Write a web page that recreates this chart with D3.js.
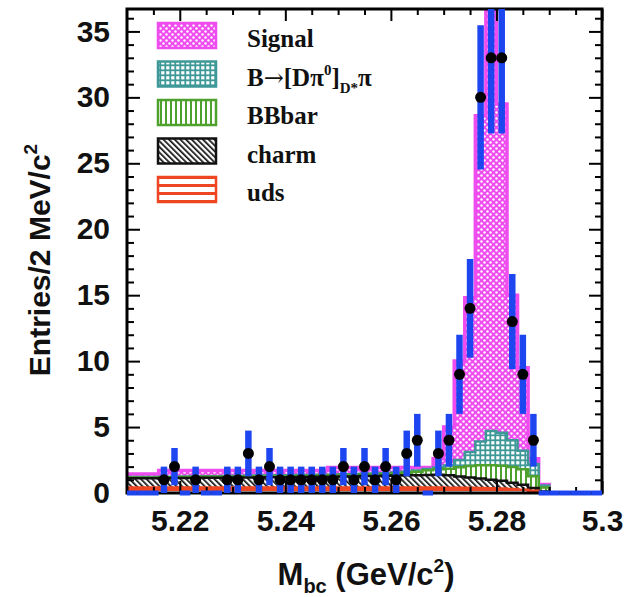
<!DOCTYPE html>
<html>
<head>
<meta charset="utf-8">
<script src="https://cdn.jsdelivr.net/npm/d3@7"></script>
<style>
  html, body { margin: 0; padding: 0; background: #fff; }
  svg { display: block; }
</style>
</head>
<body>
<svg id="chart" width="631" height="597"></svg>
<script>
// Mbc bin centres, 2 MeV/c^2 bins from 5.21 to 5.30 GeV/c^2
const binCenters = [5.211,5.213,5.215,5.217,5.219,5.221,5.223,5.225,5.227,5.229,
                    5.231,5.233,5.235,5.237,5.239,5.241,5.243,5.245,5.247,5.249,
                    5.251,5.253,5.255,5.257,5.259,5.261,5.263,5.265,5.267,5.269,
                    5.271,5.273,5.275,5.277,5.279,5.281,5.283,5.285,5.287,5.289,
                    5.291,5.293,5.295,5.297,5.299];
const binWidth = 0.002;

// Observed entries per bin
const dataCounts = [0,0,0,1,2,0,1,0,0,1,
                    1,3,1,2,1,1,1,1,1,1,
                    2,1,2,1,2,1,3,4,0,3,
                    4,9,14,30,33,33,13,9,4,0,
                    0,0,0,0,0];

// Fit components (entries per bin), stacked from bottom to top
const udsCounts = [0.42,0.42,0.42,0.42,0.42,0.42,0.42,0.42,0.42,0.42,
                   0.42,0.42,0.42,0.42,0.42,0.42,0.42,0.42,0.42,0.42,
                   0.42,0.42,0.42,0.42,0.42,0.42,0.42,0.41,0.41,0.41,
                   0.40,0.40,0.39,0.38,0.36,0.34,0.30,0.25,0.17,0.06,
                   0,0,0,0,0];
const charmCounts = [0.70,0.70,0.70,0.71,0.71,0.72,0.72,0.73,0.73,0.74,
                     0.75,0.75,0.76,0.77,0.78,0.78,0.79,0.80,0.81,0.82,
                     0.83,0.84,0.86,0.87,0.88,0.90,0.92,0.94,0.96,0.97,
                     0.95,0.86,0.78,0.72,0.64,0.58,0.48,0.37,0.20,0.05,
                     0,0,0,0,0];
const bbbarCounts = [0.06,0.06,0.06,0.07,0.07,0.07,0.07,0.08,0.08,0.08,
                     0.08,0.08,0.09,0.09,0.09,0.09,0.10,0.10,0.10,0.10,
                     0.11,0.11,0.12,0.13,0.14,0.16,0.20,0.27,0.35,0.42,
                     0.48,0.70,0.88,1.00,1.10,1.15,1.20,1.18,0.90,0.30,
                     0,0,0,0,0];
const dpiCounts = [0.03,0.03,0.03,0.04,0.04,0.04,0.04,0.04,0.04,0.04,
                   0.04,0.05,0.05,0.05,0.05,0.05,0.05,0.05,0.05,0.05,
                   0.06,0.06,0.06,0.06,0.06,0.07,0.07,0.08,0.10,0.14,
                   0.25,0.55,1.05,1.80,2.60,2.50,2.02,1.40,0.92,0.15,
                   0,0,0,0,0];
const signalCounts = [0.24,0.24,0.24,0.46,0.46,0.45,0.45,0.43,0.43,0.42,
                      0.41,0.40,0.38,0.37,0.36,0.36,0.34,0.33,0.32,0.54,
                      0.51,0.50,0.47,0.45,0.43,0.38,0.32,0.23,0.11,0.66,
                      2.92,7.49,11.70,24.70,34.30,24.93,11.00,6.30,0.41,0.09,
                      0,0,0,0,0];

// Axis ticks
const xTickValues = [5.22,5.24,5.26,5.28,5.30];
const xTickLabels = ["5.22","5.24","5.26","5.28","5.3"];
const xMinorTicks = [5.215,5.225,5.23,5.235,5.245,5.25,5.255,5.265,5.27,5.275,5.285,5.29,5.295];
const yTickValues = [0,5,10,15,20,25,30,35];
const yTickLabels = ["0","5","10","15","20","25","30","35"];
const yMinorTicks = [1,2,3,4,6,7,8,9,11,12,13,14,16,17,18,19,21,22,23,24,26,27,28,29,31,32,33,34,36];

// Legend entries, top to bottom
const components = [
  {key: "signal", label: "Signal", color: "#ee4cee", pattern: "patSignal", values: signalCounts},
  {key: "dpi",    label: "dpi",    color: "#3f9898", pattern: "patDpi",    values: dpiCounts},
  {key: "bbbar",  label: "BBbar",  color: "#4ea12c", pattern: "patBB",     values: bbbarCounts},
  {key: "charm",  label: "charm",  color: "#111111", pattern: "patCharm",  values: charmCounts},
  {key: "uds",    label: "uds",    color: "#ee4522", pattern: "patUds",    values: udsCounts}
];

const svg = d3.select("#chart");
const frame = {left: 127, right: 602, top: 9, bottom: 493};

const x = d3.scaleLinear().domain([5.21, 5.30]).range([frame.left, frame.right]);
const y = d3.scaleLinear().domain([0, 36.7]).range([frame.bottom, frame.top]);

// ---- fill patterns ----
const defs = svg.append("defs");
function pattern(id, w, h, draw, transform) {
  const p = defs.append("pattern").attr("id", id)
    .attr("patternUnits", "userSpaceOnUse").attr("width", w).attr("height", h);
  if (transform) p.attr("patternTransform", transform);
  draw(p);
}
pattern("patSignal", 6, 6, p => {
  p.append("rect").attr("width", 6).attr("height", 6).attr("fill", "#ee4cee");
  p.append("circle").attr("cx", 1.5).attr("cy", 1.5).attr("r", 1.2).attr("fill", "#fff");
  p.append("circle").attr("cx", 4.5).attr("cy", 4.5).attr("r", 1.2).attr("fill", "#fff");
});
pattern("patDpi", 5, 5, p => {
  p.append("rect").attr("width", 5).attr("height", 5).attr("fill", "#3f9898");
  p.append("rect").attr("x", 1.2).attr("y", 1.2).attr("width", 3.2).attr("height", 3.2).attr("fill", "#fff");
});
pattern("patBB", 5, 5, p => {
  p.append("rect").attr("width", 5).attr("height", 5).attr("fill", "#fff");
  p.append("rect").attr("x", 0).attr("width", 2).attr("height", 5).attr("fill", "#4ea12c");
});
pattern("patCharm", 4, 4, p => {
  p.append("rect").attr("width", 4).attr("height", 4).attr("fill", "#fff");
  p.append("rect").attr("x", 0).attr("width", 1.7).attr("height", 4).attr("fill", "#111");
}, "rotate(-45)");
pattern("patUds", 8, 8, p => {
  p.append("rect").attr("width", 8).attr("height", 8).attr("fill", "#fff");
  p.append("rect").attr("y", 0).attr("width", 8).attr("height", 3).attr("fill", "#ee4522");
});

defs.append("clipPath").attr("id", "plotClip")
  .append("rect").attr("x", frame.left).attr("y", frame.top)
  .attr("width", frame.right - frame.left).attr("height", frame.bottom - frame.top);
defs.append("clipPath").attr("id", "dataClip")
  .append("rect").attr("x", frame.left).attr("y", frame.top)
  .attr("width", frame.right - frame.left).attr("height", frame.bottom - frame.top + 4);

// ---- stacked histograms ----
const rows = binCenters.map((c, i) => ({
  center: c,
  uds: udsCounts[i], charm: charmCounts[i], bbbar: bbbarCounts[i],
  dpi: dpiCounts[i], signal: signalCounts[i]
}));
const stackOrder = ["uds", "charm", "bbbar", "dpi", "signal"];
const layers = d3.stack().keys(stackOrder)(rows);

function stepPoints(layer) {
  const pts = [];
  layer.forEach(d => {
    pts.push([d.data.center - binWidth / 2, d[1]]);
    pts.push([d.data.center + binWidth / 2, d[1]]);
  });
  return pts;
}
const area = d3.area().x(p => x(p[0])).y0(y(0)).y1(p => y(p[1]));
const line = d3.line().x(p => x(p[0])).y(p => y(p[1]));

const histG = svg.append("g").attr("clip-path", "url(#plotClip)");
const strokeW = {signal: 3.5, dpi: 2.5, bbbar: 2.5, charm: 2.5, uds: 2.5};
// draw the full stack first, then each lower cumulative on top of it
stackOrder.slice().reverse().forEach(key => {
  const comp = components.find(c => c.key === key);
  const layer = layers.find(l => l.key === key);
  const pts = stepPoints(layer);
  histG.append("path").attr("d", area(pts)).attr("fill", `url(#${comp.pattern})`);
  histG.append("path").attr("d", line(pts)).attr("fill", "none")
    .attr("stroke", comp.color).attr("stroke-width", strokeW[key]);
});

// ---- frame and ticks ----
const axisFont = "'Liberation Sans', Arial, Helvetica, sans-serif";
svg.append("rect").attr("x", frame.left).attr("y", frame.top)
  .attr("width", frame.right - frame.left).attr("height", frame.bottom - frame.top)
  .attr("fill", "none").attr("stroke", "#000").attr("stroke-width", 3);

function styleAxis(g) {
  g.select(".domain").remove();
  g.selectAll(".tick line").attr("stroke", "#000").attr("stroke-width", 2);
  g.selectAll(".tick text").attr("font-family", axisFont).attr("font-weight", "bold")
    .attr("font-size", 30).attr("fill", "#111");
}
svg.append("g").attr("transform", `translate(0,${frame.bottom})`)
  .call(d3.axisBottom(x).tickValues(xTickValues).tickFormat((d, i) => xTickLabels[i])
    .tickSize(-12).tickPadding(17)).call(styleAxis);
svg.append("g").attr("transform", `translate(0,${frame.bottom})`)
  .call(d3.axisBottom(x).tickValues(xMinorTicks).tickFormat("").tickSize(-6)).call(styleAxis);
svg.append("g").attr("transform", `translate(0,${frame.top})`)
  .call(d3.axisTop(x).tickValues(xTickValues).tickFormat("").tickSize(-12)).call(styleAxis);
svg.append("g").attr("transform", `translate(0,${frame.top})`)
  .call(d3.axisTop(x).tickValues(xMinorTicks).tickFormat("").tickSize(-6)).call(styleAxis);
svg.append("g").attr("transform", `translate(${frame.left},0)`)
  .call(d3.axisLeft(y).tickValues(yTickValues).tickFormat((d, i) => yTickLabels[i])
    .tickSize(-13).tickPadding(17)).call(styleAxis);
svg.append("g").attr("transform", `translate(${frame.left},0)`)
  .call(d3.axisLeft(y).tickValues(yMinorTicks).tickFormat("").tickSize(-7)).call(styleAxis);
svg.append("g").attr("transform", `translate(${frame.right},0)`)
  .call(d3.axisRight(y).tickValues(yTickValues).tickFormat("").tickSize(-13)).call(styleAxis);
svg.append("g").attr("transform", `translate(${frame.right},0)`)
  .call(d3.axisRight(y).tickValues(yMinorTicks).tickFormat("").tickSize(-7)).call(styleAxis);

// ---- data points with errors ----
const dataG = svg.append("g").attr("clip-path", "url(#dataClip)");
const blue = "#1e46f0";
binCenters.forEach((c, i) => {
  const n = dataCounts[i];
  if (n === 0) {
    dataG.append("line")
      .attr("x1", x(c - binWidth / 2)).attr("x2", x(c + binWidth / 2))
      .attr("y1", y(0)).attr("y2", y(0))
      .attr("stroke", blue).attr("stroke-width", 5);
  } else {
    const e = Math.sqrt(n);
    dataG.append("line")
      .attr("x1", x(c)).attr("x2", x(c))
      .attr("y1", Math.min(y(Math.max(n - e, 0)), frame.bottom)).attr("y2", y(n + e))
      .attr("stroke", blue).attr("stroke-width", 6.5);
  }
});
binCenters.forEach((c, i) => {
  const n = dataCounts[i];
  if (n > 0) {
    dataG.append("circle").attr("cx", x(c)).attr("cy", y(n)).attr("r", 5.5).attr("fill", "#000");
  }
});

// ---- legend ----
const legendFont = "'Liberation Serif', 'Times New Roman', Times, serif";
const legend = svg.append("g");
const legendTop = 23, legendStep = 38.5;
components.forEach((c, i) => {
  const yy = legendTop + i * legendStep;
  legend.append("rect").attr("x", 158).attr("y", yy).attr("width", 58).attr("height", 25)
    .attr("fill", `url(#${c.pattern})`).attr("stroke", c.color).attr("stroke-width", 2.5);
  const t = legend.append("text").attr("x", 247).attr("y", yy + 24)
    .attr("font-family", legendFont).attr("font-weight", "bold").attr("font-size", 25)
    .attr("fill", "#111");
  if (c.key === "dpi") {
    t.append("tspan").text("B");
    t.append("tspan").attr("font-family", "'DejaVu Serif', serif").attr("font-weight", "normal")
      .attr("font-size", 24).text("\u2192");
    t.append("tspan").text("[D\u03c0");
    t.append("tspan").attr("font-size", 15).attr("dy", -11).text("0");
    t.append("tspan").attr("dy", 11).text("]");
    t.append("tspan").attr("font-size", 15).attr("dy", 7).text("D*");
    t.append("tspan").attr("dy", -7).text("\u03c0");
  } else {
    t.text(c.label);
  }
});

// ---- axis titles ----
const xt = svg.append("text").attr("x", 366).attr("y", 585).attr("text-anchor", "middle")
  .attr("font-family", axisFont).attr("font-weight", "bold").attr("font-size", 31).attr("fill", "#111");
xt.append("tspan").text("M");
xt.append("tspan").attr("font-size", 20).attr("dy", 8).text("bc");
xt.append("tspan").attr("dy", -8).text(" (GeV/c");
xt.append("tspan").attr("font-size", 19).attr("dy", -13).text("2");
xt.append("tspan").attr("dy", 13).text(")");

const yt = svg.append("text").attr("transform", "translate(50,260) rotate(-90)")
  .attr("text-anchor", "middle")
  .attr("font-family", axisFont).attr("font-weight", "bold").attr("font-size", 30).attr("fill", "#111");
yt.append("tspan").text("Entries/2 MeV/c");
yt.append("tspan").attr("font-size", 19).attr("dy", -13).text("2");
</script>
</body>
</html>
